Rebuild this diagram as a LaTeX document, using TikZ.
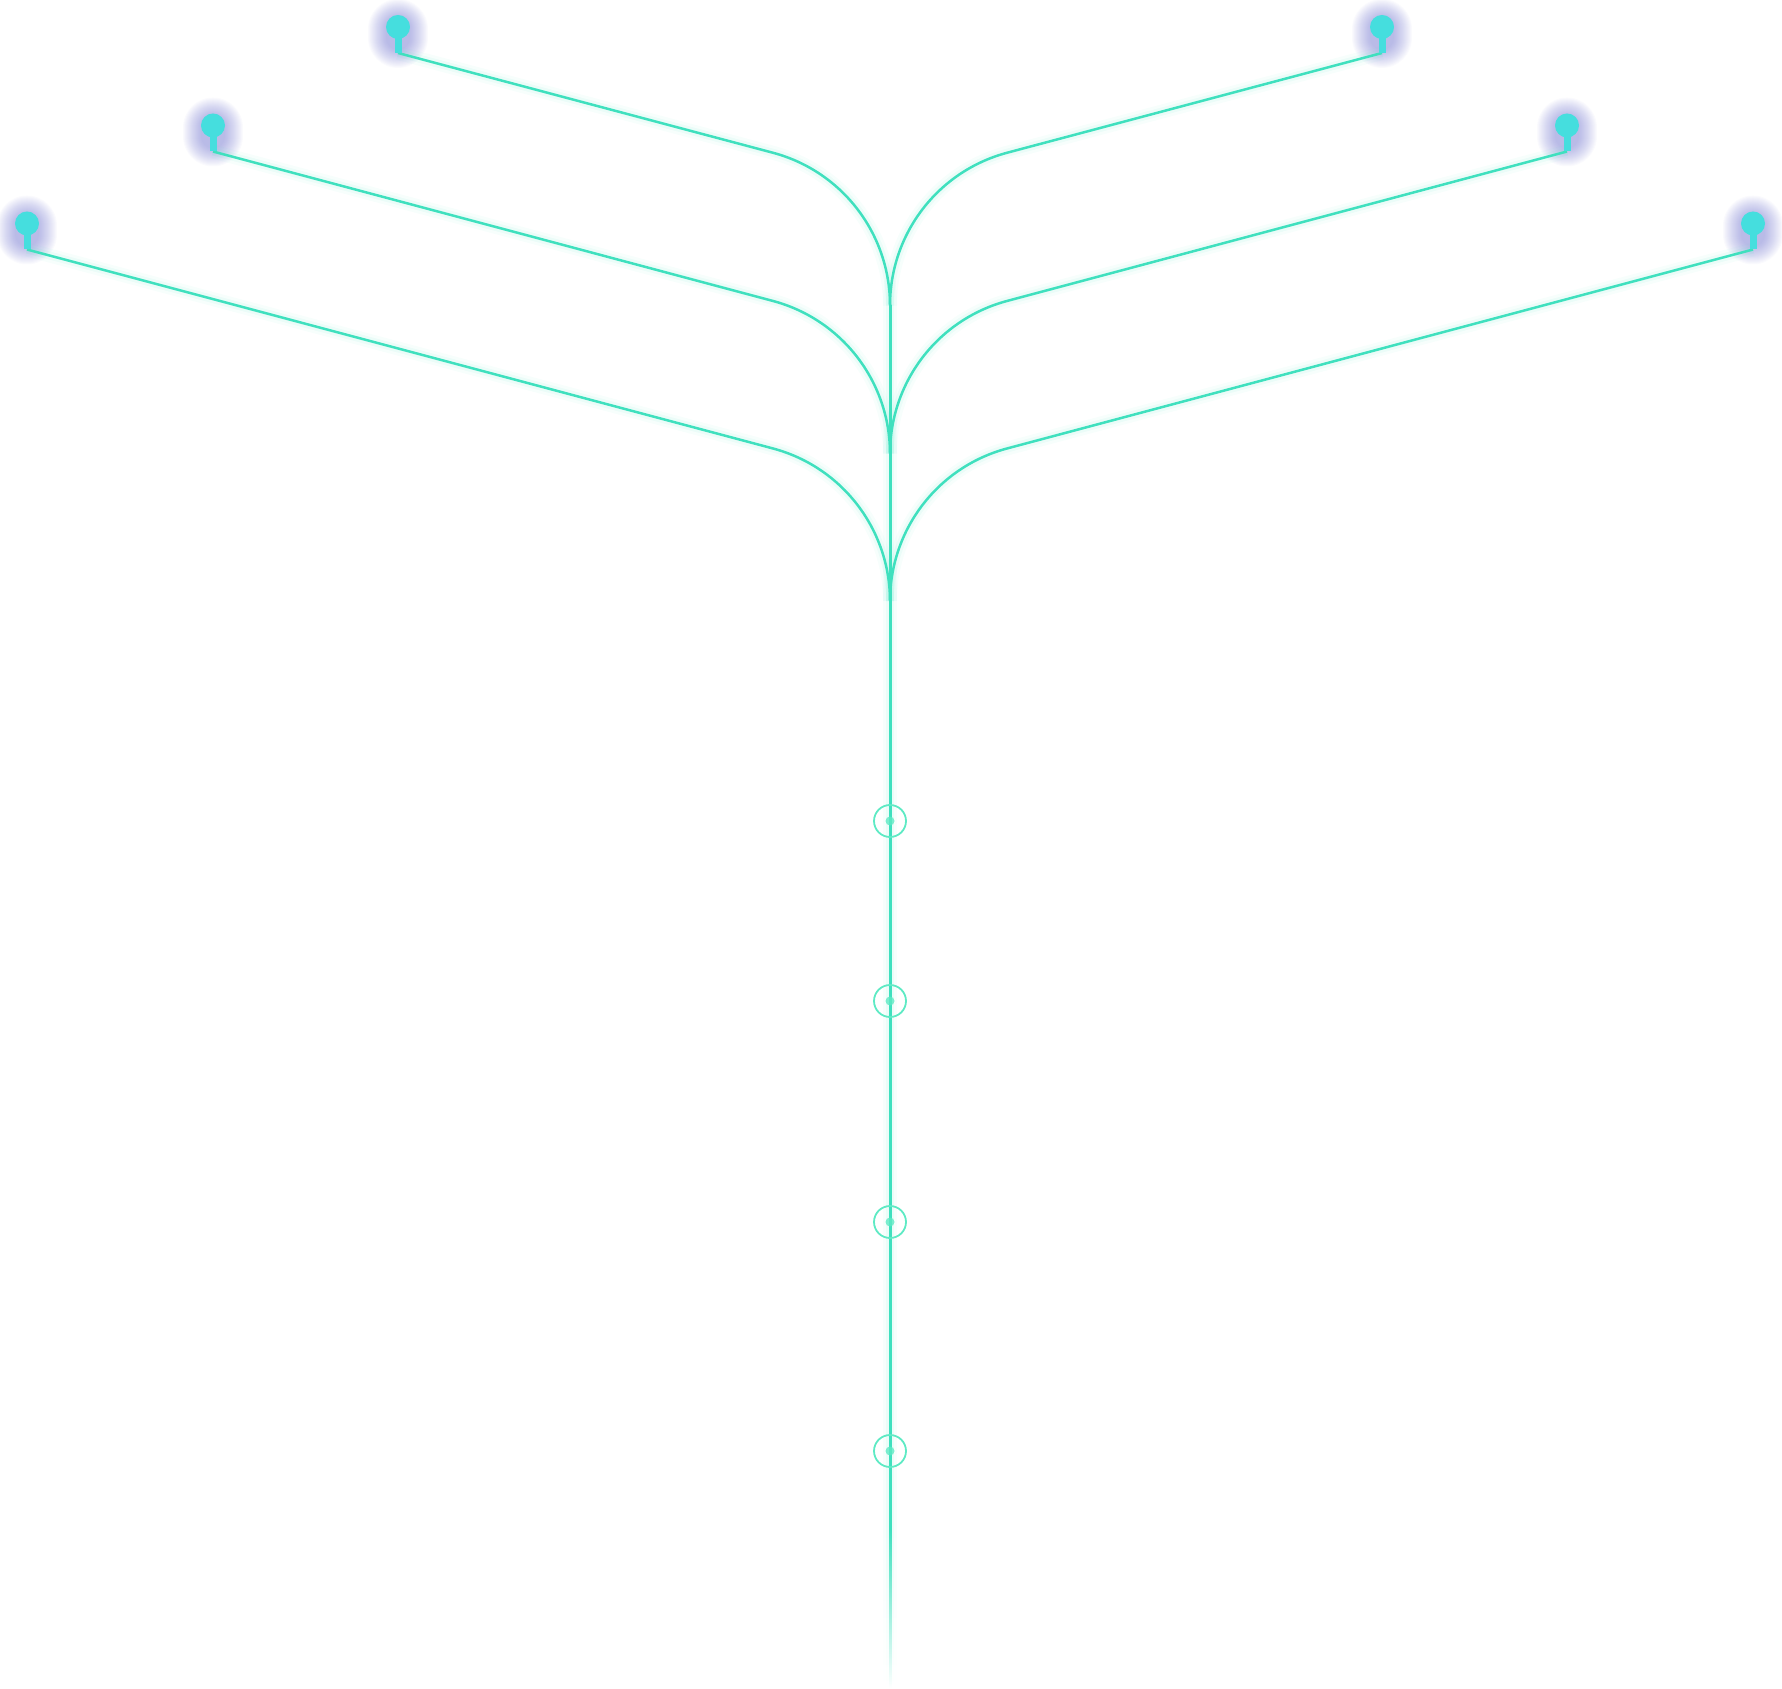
\documentclass[tikz,border=0pt]{standalone}
\usetikzlibrary{calc,fadings}
\definecolor{branch}{HTML}{3FE0BE}
\definecolor{pincol}{HTML}{45DEDE}
\definecolor{halo}{HTML}{5458C4}
\definecolor{ringcol}{HTML}{5EEAC4}
\tikzfading[name=fadedown, top color=transparent!0, bottom color=transparent!100]
\begin{document}
\begin{tikzpicture}[x=0.5pt,y=-0.5pt,
  branchline/.style={draw=branch, line width=1.25pt},
  trunkline/.style={draw=branch, line width=1.5pt},
  glowA/.style={draw=branch, line width=7pt, opacity=0.04},
  glowB/.style={draw=branch, line width=4pt, opacity=0.07},
  pinhead/.style={circle, fill=pincol, inner sep=0pt, minimum size=12pt},
  pinstem/.style={rectangle, fill=pincol, inner sep=0pt, minimum width=3.5pt, minimum height=9pt},
  ringnode/.style={circle, draw=ringcol, line width=0.9pt, inner sep=0pt, minimum size=16pt},
  dotnode/.style={circle, fill=ringcol, fill opacity=0.8, inner sep=0pt, minimum size=4.5pt}]
\useasboundingbox (0,0) rectangle (1782,1689);

% ---------- named coordinates ----------
\foreach \n/\x/\y in {A/398/27, B/213/125.5, C/27/223.5, D/1382/27, E/1567/125.5, F/1753/223.5}{
  \coordinate (h\n) at (\x,\y);
  \coordinate (s\n) at (\x,\y+26);
}
\coordinate (jA) at (890,305.4);
\coordinate (jB) at (890,453.6);
\coordinate (jC) at (890,601.1);
\coordinate (aA) at (772.7,152.7) ; \coordinate (cA1) at (842,171.1); \coordinate (cA2) at (890,233.7);
\coordinate (aB) at (772.7,300.9) ; \coordinate (cB1) at (842,319.3); \coordinate (cB2) at (890,381.9);
\coordinate (aC) at (772.7,448.4) ; \coordinate (cC1) at (842,466.8); \coordinate (cC2) at (890,529.4);
\coordinate (aD) at (1007.3,152.7); \coordinate (cD1) at (938,171.1);
\coordinate (aE) at (1007.3,300.9); \coordinate (cE1) at (938,319.3);
\coordinate (aF) at (1007.3,448.4); \coordinate (cF1) at (938,466.8);
\coordinate (tEnd) at (890,1530);

% ---------- halos behind pins ----------
\foreach \n in {A,B,C,D,E,F}{
  \foreach \w in {12,13,...,30}{
    \draw[halo, line width=\w pt, line cap=round, opacity=0.028]
      ($(h\n)+(0,2)$) -- ($(h\n)+(0,11)$);
  }
}

% ---------- glow of lines ----------
\foreach \st in {glowA,glowB}{
  \draw[\st] (sA) -- (aA) .. controls (cA1) and (cA2) .. (jA);
  \draw[\st] (sB) -- (aB) .. controls (cB1) and (cB2) .. (jB);
  \draw[\st] (sC) -- (aC) .. controls (cC1) and (cC2) .. (jC);
  \draw[\st] (sD) -- (aD) .. controls (cD1) and (cA2) .. (jA);
  \draw[\st] (sE) -- (aE) .. controls (cE1) and (cB2) .. (jB);
  \draw[\st] (sF) -- (aF) .. controls (cF1) and (cC2) .. (jC);
  \draw[\st] (jA) -- (tEnd);
}
\fill[branch, opacity=0.04, path fading=fadedown] (883,1530) rectangle (897,1688);
\fill[branch, opacity=0.07, path fading=fadedown] (886,1530) rectangle (894,1688);

% ---------- branches ----------
\draw[branchline] (sA) -- (aA) .. controls (cA1) and (cA2) .. (jA);
\draw[branchline] (sB) -- (aB) .. controls (cB1) and (cB2) .. (jB);
\draw[branchline] (sC) -- (aC) .. controls (cC1) and (cC2) .. (jC);
\draw[branchline] (sD) -- (aD) .. controls (cD1) and (cA2) .. (jA);
\draw[branchline] (sE) -- (aE) .. controls (cE1) and (cB2) .. (jB);
\draw[branchline] (sF) -- (aF) .. controls (cF1) and (cC2) .. (jC);

% ---------- trunk ----------
\draw[trunkline] (jA) -- (tEnd);
\fill[branch, path fading=fadedown] (888.5,1529.5) rectangle (891.5,1688);

% ---------- pins ----------
\foreach \n in {A,B,C,D,E,F}{
  \node[pinstem] (st\n) at ($(h\n)+(0,17)$) {};
  \node[pinhead] (p\n) at (h\n) {};
}

% ---------- rings on the trunk ----------
\foreach \i/\y in {1/821,2/1001,3/1222,4/1451}{
  \node[ringnode] (r\i) at (890,\y) {};
  \node[dotnode] (d\i) at (r\i) {};
}
\end{tikzpicture}
\end{document}
